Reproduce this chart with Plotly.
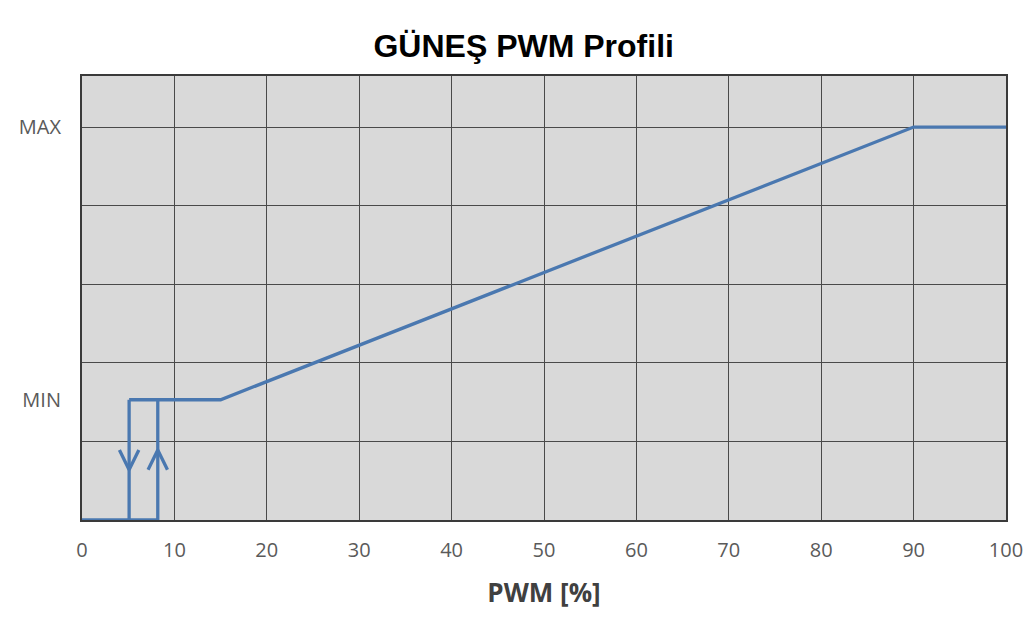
import plotly.graph_objects as go

# PWM profile: output level vs PWM duty cycle
MIN_LEVEL = 1.53
MAX_LEVEL = 5.0

# Hysteresis thresholds (switch-off / switch-on) in % PWM
pwm_off = 5.1
pwm_on = 8.2

# Main operating curve
curve_pwm = [pwm_off, 15, 90, 100]
curve_level = [MIN_LEVEL, MIN_LEVEL, MAX_LEVEL, MAX_LEVEL]

# Off segment along the bottom
off_pwm = [0, pwm_on]
off_level = [0, 0]

# Arrow markers on the hysteresis verticals: (x, y of tip, direction)
arrow_x = [pwm_off, pwm_on]
arrow_tip = [0.64, 0.89]
arrow_dir = [-1, 1]

x_ticks = [0, 10, 20, 30, 40, 50, 60, 70, 80, 90, 100]
y_labels = ["MIN", "MAX"]
y_label_vals = [MIN_LEVEL, MAX_LEVEL]

LINE = "#4a78b0"
TICK_FONT = dict(family="Open Sans", size=20, color="#5a5a5a")

xs, ys = [], []
xs += curve_pwm + [None]
ys += curve_level + [None]
xs += off_pwm + [None]
ys += off_level + [None]
for xv in arrow_x:
    xs += [xv, xv, None]
    ys += [0, MIN_LEVEL, None]

# chevron arrowheads
hx, hy = [], []
half_w, depth = 1.05, 0.25
for xv, tip, d in zip(arrow_x, arrow_tip, arrow_dir):
    hx += [xv - half_w, xv, xv + half_w, None]
    hy += [tip - d * depth, tip, tip - d * depth, None]

fig = go.Figure()
fig.add_trace(go.Scatter(x=xs, y=ys, mode="lines",
                         line=dict(color=LINE, width=3.3), hoverinfo="skip",
                         showlegend=False))
fig.add_trace(go.Scatter(x=hx, y=hy, mode="lines",
                         line=dict(color=LINE, width=3.3), hoverinfo="skip",
                         showlegend=False))
# invisible trace to carry the MIN/MAX labels axis
fig.add_trace(go.Scatter(x=[0], y=[0], yaxis="y2", mode="markers",
                         marker=dict(opacity=0), hoverinfo="skip",
                         showlegend=False))

fig.update_layout(
    width=1035, height=619,
    margin=dict(l=82, r=23, t=76, b=99),
    paper_bgcolor="white",
    plot_bgcolor="#d9d9d9",
    title=dict(text="<b>GÜNEŞ PWM Profili</b>", x=0.506, xanchor="center",
               y=0.926, yanchor="middle",
               font=dict(family="Arial, Liberation Sans", size=32, color="black")),
    xaxis=dict(range=[0, 100], tickvals=x_ticks, showgrid=True,
               gridcolor="#4a4a4a", gridwidth=1.3,
               showline=True, linecolor="#3a3a3a", linewidth=2, mirror=True,
               layer="below traces", zeroline=False, ticks="",
               ticklabelstandoff=11, tickfont=TICK_FONT,
               title=dict(text="<b>PWM [%]</b>", standoff=22,
                          font=dict(family="Open Sans", size=26, color="#404040"))),
    yaxis=dict(range=[0, 5.65], dtick=1, showgrid=True,
               gridcolor="#4a4a4a", gridwidth=1.3,
               showline=True, linecolor="#3a3a3a", linewidth=2, mirror=True,
               layer="below traces", zeroline=False, showticklabels=False,
               ticks=""),
    yaxis2=dict(range=[0, 5.65], overlaying="y", side="left",
                tickvals=y_label_vals, ticktext=y_labels, showgrid=False,
                zeroline=False, showline=False, ticks="",
                ticklabelstandoff=20, tickfont=TICK_FONT),
)

fig.write_html("out.html")
